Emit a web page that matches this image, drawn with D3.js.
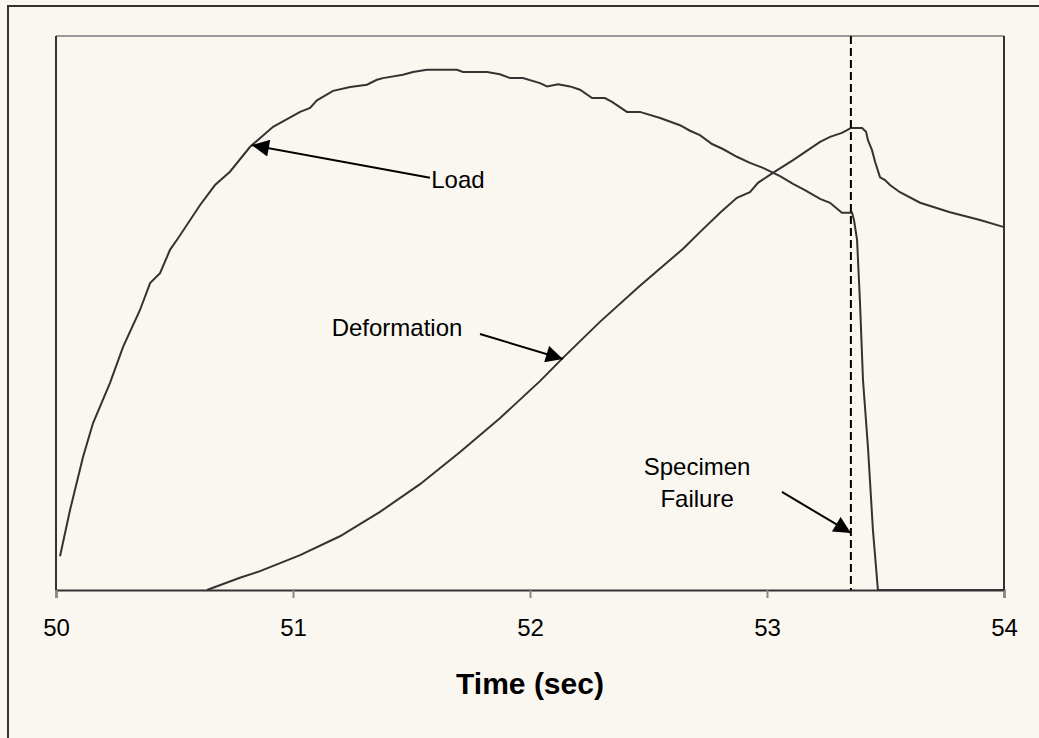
<!DOCTYPE html>
<html>
<head>
<meta charset="utf-8">
<script src="https://cdn.jsdelivr.net/npm/d3@7"></script>
<style>
  body { margin: 0; background: #faf7f0; }
  text { font-family: "Liberation Sans", Arial, sans-serif; fill: #000; }
</style>
</head>
<body>
<script>
// time (sec) and relative load / deformation
var loadTime = [50.017, 50.059, 50.114, 50.156, 50.228, 50.283, 50.354, 50.397, 50.439, 50.481,
  50.515, 50.608, 50.671, 50.734, 50.819, 50.916, 51.030, 51.072, 51.101, 51.169,
  51.241, 51.312, 51.354, 51.380, 51.464, 51.506, 51.565, 51.692, 51.717, 51.819,
  51.873, 51.916, 51.970, 52.042, 52.072, 52.118, 52.169, 52.211, 52.262, 52.316,
  52.346, 52.409, 52.464, 52.549, 52.633, 52.675, 52.717, 52.768, 52.814, 52.873,
  52.928, 52.983, 53.055, 53.110, 53.160, 53.224, 53.266, 53.316, 53.359, 53.367,
  53.380, 53.392, 53.405, 53.426, 53.447, 53.468, 54.0];
var loadValue = [6.1, 14.4, 24.0, 30.1, 37.4, 43.9, 50.5, 55.4, 57.2, 61.4,
  63.5, 69.5, 73.1, 75.5, 80.0, 83.6, 86.3, 87.0, 88.4, 90.1,
  90.8, 91.2, 92.1, 92.4, 93.0, 93.5, 93.9, 93.9, 93.5, 93.5,
  93.1, 92.4, 92.4, 91.5, 90.9, 91.3, 90.9, 90.3, 88.8, 88.8,
  88.1, 86.3, 86.3, 85.2, 83.9, 82.9, 82.1, 80.5, 79.6, 78.2,
  77.1, 76.2, 74.7, 73.3, 72.2, 70.6, 69.9, 68.1, 68.1, 66.8,
  63.2, 52.3, 37.9, 25.8, 10.8, 0, 0];

var defTime = [50.637, 50.776, 50.861, 51.030, 51.198, 51.367, 51.536, 51.705, 51.873, 52.042,
  52.139, 52.295, 52.464, 52.646, 52.717, 52.802, 52.873, 52.928, 52.962, 53.025,
  53.110, 53.224, 53.266, 53.316, 53.338, 53.354, 53.401, 53.418, 53.426, 53.443,
  53.456, 53.477, 53.498, 53.519, 53.561, 53.646, 53.772, 53.899, 54.0];
var defValue = [0, 2.2, 3.4, 6.3, 9.7, 14.1, 19.1, 24.9, 31.0, 37.7,
  41.9, 48.4, 54.9, 61.6, 64.6, 68.1, 70.8, 71.8, 73.5, 75.3,
  77.6, 80.9, 81.8, 82.5, 83.0, 83.4, 83.4, 82.7, 81.2, 79.4,
  77.3, 74.5, 74.0, 73.1, 71.8, 69.9, 68.2, 66.8, 65.5];

var xTicks = [50, 51, 52, 53, 54];
var failureTime = 53.354;

// annotations in data units: label position, arrow tail, arrow tip
var notes = [
  { lines: ["Load"], t: 51.696, v: 74.0, from: [51.578, 74.4], to: [50.827, 80.3] },
  { lines: ["Deformation"], t: 51.439, v: 47.3, from: [51.789, 46.2], to: [52.139, 41.7] },
  { lines: ["Specimen", "Failure"], t: 52.705, v: 22.2, from: [53.063, 17.7], to: [53.354, 10.3] }
];

var W = 1039, H = 738;
var svg = d3.select(document.body).append("svg")
  .attr("width", W)
  .attr("height", H);

svg.append("rect")
  .attr("width", W)
  .attr("height", H)
  .attr("fill", "#faf7f0");

// outer chart frame (only top and left visible)
svg.append("path")
  .attr("d", "M8," + H + " V6 H" + W)
  .attr("fill", "none")
  .attr("stroke", "#333")
  .attr("stroke-width", 2);

var x = d3.scaleLinear().domain([50, 54]).range([56, 1004]);
var y = d3.scaleLinear().domain([0, 100]).range([590, 36]);

var defs = svg.append("defs");
defs.append("marker")
  .attr("id", "head")
  .attr("viewBox", "0 0 10 10")
  .attr("refX", 10)
  .attr("refY", 5)
  .attr("markerUnits", "userSpaceOnUse")
  .attr("markerWidth", 20)
  .attr("markerHeight", 17)
  .attr("orient", "auto")
  .append("path")
  .attr("d", "M0,0 L10,5 L0,10 Z")
  .attr("fill", "#000");

// plot frame
svg.append("line")
  .attr("x1", x(50)).attr("x2", x(54))
  .attr("y1", y(100)).attr("y2", y(100))
  .attr("stroke", "#999").attr("stroke-width", 2);
svg.append("path")
  .attr("d", "M" + x(50) + "," + y(100) + " V" + y(0) + " M" + x(54) + "," + y(100) + " V" + y(0))
  .attr("stroke", "#333").attr("stroke-width", 2).attr("fill", "none");

var axis = svg.append("g")
  .attr("transform", "translate(0," + y(0) + ")")
  .call(d3.axisBottom(x).tickValues(xTicks).tickFormat(d3.format("d")).tickSize(8).tickPadding(21));
axis.select(".domain").attr("stroke", "#333").attr("stroke-width", 2);
axis.selectAll(".tick line").attr("stroke", "#888").attr("stroke-width", 2);
axis.selectAll(".tick text")
  .attr("font-size", 24)
  .attr("font-family", "Liberation Sans, Arial, sans-serif")
  .attr("fill", "#000");

svg.append("text")
  .attr("x", (x(50) + x(54)) / 2)
  .attr("y", 694)
  .attr("text-anchor", "middle")
  .attr("font-size", 30)
  .attr("font-weight", "bold")
  .text("Time (sec)");

var line = d3.line()
  .x(function(d) { return x(d[0]); })
  .y(function(d) { return y(d[1]); });

var loadData = loadTime.map(function(t, i) { return [t, loadValue[i]]; });
var defData = defTime.map(function(t, i) { return [t, defValue[i]]; });

svg.append("path")
  .datum(loadData)
  .attr("d", line)
  .attr("fill", "none")
  .attr("stroke", "#333")
  .attr("stroke-width", 2);

svg.append("path")
  .datum(defData)
  .attr("d", line)
  .attr("fill", "none")
  .attr("stroke", "#333")
  .attr("stroke-width", 2);

// failure marker
svg.append("line")
  .attr("x1", x(failureTime)).attr("x2", x(failureTime))
  .attr("y1", y(100)).attr("y2", y(0))
  .attr("stroke", "#000")
  .attr("stroke-width", 2)
  .attr("stroke-dasharray", "8,4");

notes.forEach(function(n) {
  var t = svg.append("text")
    .attr("x", x(n.t))
    .attr("y", y(n.v))
    .attr("text-anchor", "middle")
    .attr("font-size", 24);
  n.lines.forEach(function(s, i) {
    t.append("tspan")
      .attr("x", x(n.t))
      .attr("dy", i === 0 ? "0.35em" : "1.3em")
      .text(s);
  });
  svg.append("line")
    .attr("x1", x(n.from[0])).attr("y1", y(n.from[1]))
    .attr("x2", x(n.to[0])).attr("y2", y(n.to[1]))
    .attr("stroke", "#000")
    .attr("stroke-width", 2)
    .attr("marker-end", "url(#head)");
});
</script>
</body>
</html>
